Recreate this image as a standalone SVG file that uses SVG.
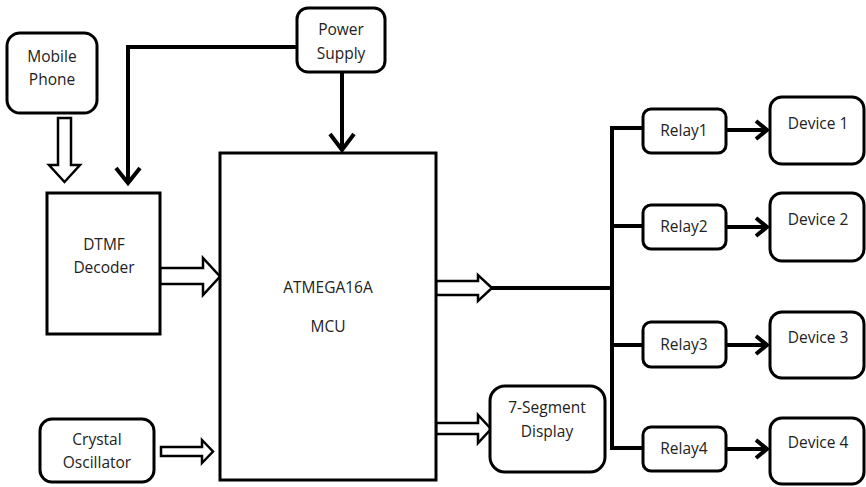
<svg xmlns="http://www.w3.org/2000/svg" width="866" height="487" viewBox="0 0 866 487">
<style>
.box{fill:#fff;stroke:#000;stroke-width:3}
.t{font-family:"Open Sans","Liberation Sans",sans-serif;font-size:15.5px;fill:#222;text-anchor:middle}
.ln{fill:none;stroke:#000;stroke-width:4}
.hd{fill:none;stroke:#000;stroke-width:4;stroke-linejoin:miter}
.blk{fill:#fff;stroke:#000;stroke-width:2.5;stroke-linejoin:miter}
</style>
<rect width="866" height="487" fill="#fff"/>
<g id="connectors">
<polygon class="blk" points="58,118 71,118 71,165 80,165 64.5,182 49,165 58,165"/>
<polygon class="blk" points="160,268 203,268 203,258 220,276.5 203,295 203,284 160,284"/>
<polygon class="blk" points="161,447 202,447 202,440 213,451.5 202,463 202,456 161,456"/>
<polygon class="blk" points="436,281 478,281 478,275 492,288 478,301 478,295 436,295"/>
<polygon class="blk" points="436,423 478,423 478,415 491,429 478,443 478,434 436,434"/>
<polyline class="ln" points="297,47 128,47 128,181"/>
<polyline class="hd" points="116,168 128,183 140,168"/>
<line class="ln" x1="342" y1="72" x2="342" y2="148"/>
<polyline class="hd" points="330,134 342,150 354,134"/>
<line class="ln" x1="492" y1="288" x2="614" y2="288"/>
<line class="ln" x1="612" y1="126" x2="612" y2="450"/>
<line class="ln" x1="610" y1="128" x2="643" y2="128"/>
<line class="ln" x1="610" y1="226" x2="643" y2="226"/>
<line class="ln" x1="610" y1="345" x2="643" y2="345"/>
<line class="ln" x1="610" y1="448" x2="643" y2="448"/>
<line class="ln" x1="726" y1="130" x2="766" y2="130"/>
<polyline class="hd" points="756,121 767,130 756,139"/>
<line class="ln" x1="726" y1="227" x2="766" y2="227"/>
<polyline class="hd" points="756,218 767,227 756,236"/>
<line class="ln" x1="726" y1="345" x2="766" y2="345"/>
<polyline class="hd" points="756,336 767,345 756,354"/>
<line class="ln" x1="726" y1="449" x2="766" y2="449"/>
<polyline class="hd" points="756,440 767,449 756,458"/>
</g>
<g id="mobile"><rect class="box" x="7" y="33" width="90" height="80" rx="13"/><text class="t" x="52" y="62">Mobile</text><text class="t" x="52" y="85">Phone</text></g>
<g id="power"><rect class="box" x="297" y="8" width="88" height="64" rx="11"/><text class="t" x="341" y="35">Power</text><text class="t" x="341" y="59">Supply</text></g>
<g id="dtmf"><rect class="box" x="47" y="193" width="113" height="141"/><text class="t" x="104" y="250">DTMF</text><text class="t" x="104" y="273">Decoder</text></g>
<g id="mcu"><rect class="box" x="220" y="153" width="216" height="327"/><text class="t" x="328" y="293">ATMEGA16A</text><text class="t" x="328" y="332">MCU</text></g>
<g id="crystal"><rect class="box" x="40" y="419" width="114" height="63" rx="12"/><text class="t" x="97" y="445">Crystal</text><text class="t" x="97" y="468">Oscillator</text></g>
<g id="seg"><rect class="box" x="490" y="386" width="115" height="86" rx="15"/><text class="t" x="547" y="413">7-Segment</text><text class="t" x="547" y="437">Display</text></g>
<g id="relay1"><rect class="box" x="643" y="109" width="83" height="44" rx="8"/><text class="t" x="684" y="136">Relay1</text></g>
<g id="relay2"><rect class="box" x="643" y="205" width="83" height="44" rx="8"/><text class="t" x="684" y="232">Relay2</text></g>
<g id="relay3"><rect class="box" x="643" y="322" width="83" height="45" rx="8"/><text class="t" x="684" y="350">Relay3</text></g>
<g id="relay4"><rect class="box" x="643" y="427" width="83" height="44" rx="8"/><text class="t" x="684" y="454">Relay4</text></g>
<g id="device1"><rect class="box" x="770" y="97" width="94" height="67" rx="12"/><text class="t" x="818" y="129">Device 1</text></g>
<g id="device2"><rect class="box" x="770" y="193" width="94" height="68" rx="12"/><text class="t" x="818" y="225">Device 2</text></g>
<g id="device3"><rect class="box" x="770" y="312" width="94" height="66" rx="12"/><text class="t" x="818" y="343">Device 3</text></g>
<g id="device4"><rect class="box" x="770" y="418" width="94" height="66" rx="12"/><text class="t" x="818" y="448">Device 4</text></g>
</svg>
